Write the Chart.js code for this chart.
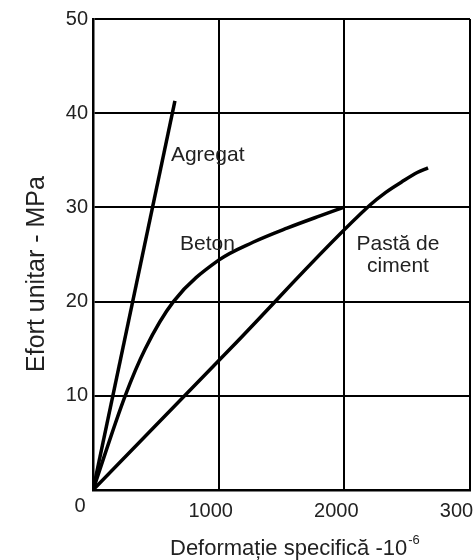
<!DOCTYPE html>
<html>
<head>
<meta charset="utf-8">
<script src="https://cdn.jsdelivr.net/npm/chart.js@4.4.0/dist/chart.umd.min.js"></script>
<style>
  body { margin: 0; background: #fff; overflow: hidden; }
</style>
</head>
<body>
<canvas id="stressChart" width="473" height="560"></canvas>
<script>
// curves: strain (10^-6), stress (MPa)
var agregatStrain = [0, 652];
var agregatStress = [0, 41.3];

var betonStrain = [0, 256, 416, 640, 1000, 1273, 1544, 1806, 1995];
var betonStress = [0, 10, 15, 20, 24.4, 26.3, 27.8, 29.1, 30];

var pastaStrain = [0, 1100, 2200, 2330, 2456, 2580, 2666];
var pastaStress = [0, 15.1, 30.2, 31.6, 32.7, 33.7, 34.2];

var xTicks = [0, 1000, 2000, 3000];
var yTicks = [0, 10, 20, 30, 40, 50];

var FONT = '"Liberation Sans", Arial, sans-serif';

function toPoints(xs, ys) {
  return xs.map(function (x, i) { return { x: x, y: ys[i] }; });
}

// curve labels, in data coordinates
var curveLabels = [
  { text: 'Agregat', x: 620, y: 34.9, align: 'left' },
  { text: 'Beton', x: 692, y: 25.5, align: 'left' },
  { text: 'Pastă de', x: 2427, y: 25.5, align: 'center' },
  { text: 'ciment', x: 2427, y: 23.1, align: 'center' }
];

var labelsPlugin = {
  id: 'labels',
  afterDatasetsDraw: function (chart) {
    var ctx = chart.ctx;
    var xs = chart.scales.x, ys = chart.scales.y;
    var area = chart.chartArea;
    ctx.save();
    ctx.fillStyle = '#222';
    ctx.textBaseline = 'alphabetic';
    ctx.font = '21px ' + FONT;
    curveLabels.forEach(function (l) {
      ctx.textAlign = l.align;
      ctx.fillText(l.text, xs.getPixelForValue(l.x), ys.getPixelForValue(l.y));
    });

    // shared zero at the corner
    ctx.font = '20px ' + FONT;
    ctx.textAlign = 'center';
    ctx.textBaseline = 'middle';
    ctx.fillText('0', area.left - 13, area.bottom + 16);

    // axis titles
    ctx.textBaseline = 'alphabetic';
    ctx.font = '22px ' + FONT;
    ctx.textAlign = 'left';
    var xt = 'Deformație specifică -10';
    var tx = 170, ty = area.bottom + 65;
    ctx.fillText(xt, tx, ty);
    var w = ctx.measureText(xt).width;
    ctx.font = '13px ' + FONT;
    ctx.fillText('-6', tx + w + 1, ty - 11);

    ctx.font = '25px ' + FONT;
    ctx.translate(37, 274);
    ctx.rotate(-Math.PI / 2);
    ctx.textAlign = 'center';
    ctx.textBaseline = 'middle';
    ctx.fillText('Efort unitar - MPa', 0, 0);
    ctx.restore();
  }
};

var lineStyle = {
  borderColor: '#000',
  borderWidth: 3.5,
  pointRadius: 0,
  fill: false,
  cubicInterpolationMode: 'monotone'
};

var ctx = document.getElementById('stressChart').getContext('2d');
var chart = new Chart(ctx, {
  type: 'line',
  data: {
    datasets: [
      Object.assign({ label: 'Agregat', data: toPoints(agregatStrain, agregatStress) }, lineStyle),
      Object.assign({ label: 'Beton', data: toPoints(betonStrain, betonStress) }, lineStyle),
      Object.assign({ label: 'Pastă de ciment', data: toPoints(pastaStrain, pastaStress) }, lineStyle)
    ]
  },
  options: {
    responsive: false,
    animation: false,
    layout: { padding: { top: 19, right: 3, left: 0, bottom: 0 } },
    plugins: { legend: { display: false }, tooltip: { enabled: false } },
    scales: {
      x: {
        type: 'linear',
        min: 0,
        max: 3000,
        afterBuildTicks: function (s) { s.ticks = xTicks.map(function (v) { return { value: v }; }); },
        afterFit: function (s) { s.height = 70; s.paddingLeft = 0; s.paddingRight = 0; },
        grid: { color: '#000', lineWidth: 2, drawTicks: false },
        border: { color: '#000', width: 2.5 },
        ticks: {
          padding: 9,
          labelOffset: -8,
          maxRotation: 0,
          autoSkip: false,
          color: '#222',
          font: { size: 20, family: FONT },
          callback: function (v) { return v === 0 ? '' : String(v); }
        }
      },
      y: {
        min: 0,
        max: 50,
        afterBuildTicks: function (s) { s.ticks = yTicks.map(function (v) { return { value: v }; }); },
        afterFit: function (s) { s.width = 93; s.paddingTop = 0; s.paddingBottom = 0; },
        grid: { color: '#000', lineWidth: 2, drawTicks: false },
        border: { color: '#000', width: 2.5 },
        ticks: {
          padding: 5,
          color: '#222',
          font: { size: 20, family: FONT },
          callback: function (v) { return v === 0 ? '' : String(v); }
        }
      }
    }
  },
  plugins: [labelsPlugin]
});
</script>
</body>
</html>
